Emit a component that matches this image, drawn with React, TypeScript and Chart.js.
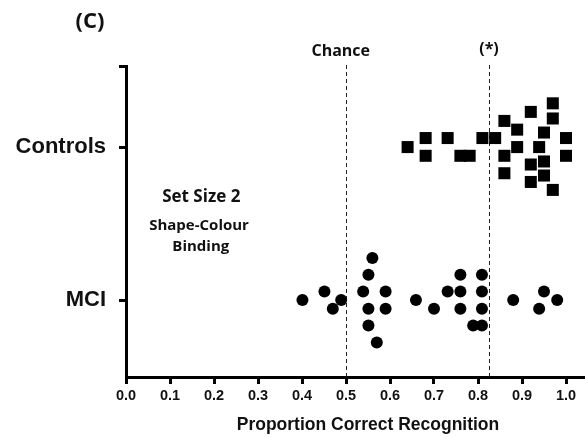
import React, { useEffect, useRef } from "react";
import { Chart, registerables } from "chart.js";

Chart.register(...registerables);

// Category positions on the numeric y axis
const groupLabels: Record<number, string> = { 1: "MCI", 2: "Controls" };

// Controls: proportion correct (x) and jittered row position (y)
const controlsX = [0.64, 0.681, 0.681, 0.731, 0.76, 0.781, 0.81, 0.839, 0.86, 0.86, 0.86, 0.889, 0.889, 0.92, 0.92, 0.92, 0.939, 0.95, 0.95, 0.95, 0.97, 0.97, 0.97, 1.0, 1.0];
const controlsY = [2.0, 2.059, 1.943, 2.059, 1.943, 1.943, 2.059, 2.059, 2.171, 1.943, 1.829, 2.114, 2.0, 2.23, 1.886, 1.772, 2.0, 2.095, 1.906, 1.814, 2.286, 2.187, 1.72, 2.059, 1.943];

// MCI: proportion correct (x) and jittered row position (y)
const mciX = [0.401, 0.451, 0.47, 0.489, 0.56, 0.551, 0.539, 0.551, 0.551, 0.57, 0.59, 0.59, 0.659, 0.7, 0.731, 0.76, 0.76, 0.76, 0.789, 0.809, 0.809, 0.809, 0.809, 0.88, 0.95, 0.939, 0.98];
const mciY = [1.0, 1.056, 0.943, 1.0, 1.275, 1.165, 1.056, 0.943, 0.834, 0.723, 1.056, 0.943, 1.0, 0.943, 1.056, 1.165, 1.056, 0.943, 0.834, 1.165, 1.056, 0.943, 0.834, 1.0, 1.056, 0.943, 1.0];

const xTickValues = [0, 0.1, 0.2, 0.3, 0.4, 0.5, 0.6, 0.7, 0.8, 0.9, 1.0];
const chanceLevel = 0.5;
const sigLevel = 0.825;

const annotationPlugin = {
  id: "annotations",
  beforeDatasetsDraw(chart: any) {
    const { ctx, scales, chartArea } = chart;
    const xs = scales.x;
    ctx.save();
    ctx.strokeStyle = "#222";
    ctx.lineWidth = 1;
    ctx.setLineDash([4, 3]);
    [chanceLevel, sigLevel].forEach((v) => {
      const px = Math.round(xs.getPixelForValue(v)) + 0.5;
      ctx.beginPath();
      ctx.moveTo(px, chartArea.top - 1);
      ctx.lineTo(px, chartArea.bottom);
      ctx.stroke();
    });
    ctx.restore();
  },
  afterDraw(chart: any) {
    const { ctx, scales } = chart;
    const xs = scales.x;
    const ys = scales.y;
    ctx.save();
    ctx.fillStyle = "#111";
    ctx.textAlign = "center";
    ctx.textBaseline = "middle";
    ctx.font = "bold 22px 'Open Sans'";
    ctx.fillText("(C)", 90, 22);
    ctx.font = "bold 16px 'Open Sans'";
    ctx.fillText("Chance", xs.getPixelForValue(0.488), 51);
    ctx.fillText("(*)", xs.getPixelForValue(sigLevel), 49);
    ctx.font = "bold 17px 'Open Sans'";
    ctx.fillText("Set Size 2", xs.getPixelForValue(0.171), ys.getPixelForValue(1.673));
    ctx.font = "bold 15px 'Open Sans'";
    ctx.fillText("Shape-Colour", xs.getPixelForValue(0.166), ys.getPixelForValue(1.484));
    ctx.fillText("Binding", xs.getPixelForValue(0.17), ys.getPixelForValue(1.346));
    ctx.font = "bold 17.5px 'Liberation Sans'";
    ctx.fillText("Proportion Correct Recognition", xs.getPixelForValue(0.55), 425);
    ctx.restore();
  },
};

export default function App() {
  const canvasRef = useRef<HTMLCanvasElement | null>(null);

  useEffect(() => {
    const canvas = canvasRef.current;
    if (!canvas) return;
    const chart = new Chart(canvas, {
      type: "scatter",
      data: {
        datasets: [
          {
            label: "Controls",
            data: controlsX.map((x, i) => ({ x, y: controlsY[i] })),
            pointStyle: "rect",
            pointRadius: 8.5,
            pointHoverRadius: 8.5,
            backgroundColor: "#000",
            borderWidth: 0,
          },
          {
            label: "MCI",
            data: mciX.map((x, i) => ({ x, y: mciY[i] })),
            pointStyle: "circle",
            pointRadius: 6,
            pointHoverRadius: 6,
            backgroundColor: "#000",
            borderWidth: 0,
          },
        ],
      },
      options: {
        animation: false,
        responsive: false,
        layout: { autoPadding: false, padding: { top: 66, right: 0, left: 0, bottom: 0 } },
        plugins: { legend: { display: false }, tooltip: { enabled: false } },
        scales: {
          x: {
            type: "linear",
            min: 0,
            max: (585 - 126) / 440,
            afterFit(scale: any) {
              scale.height = 60;
              scale.paddingLeft = 0;
              scale.paddingRight = 0;
            },
            afterBuildTicks(scale: any) {
              scale.ticks = xTickValues.map((value) => ({ value }));
            },
            ticks: {
              callback: (v: any) => Number(v).toFixed(1),
              color: "#111",
              font: { family: "'Liberation Sans'", weight: "bold", size: 14.5 },
              padding: 3,
              maxRotation: 0,
              autoSkip: false,
            },
            grid: {
              drawOnChartArea: false,
              drawTicks: true,
              tickLength: 7,
              tickWidth: 3,
              tickColor: "#000",
            },
            border: { display: true, color: "#000", width: 3 },
          },
          y: {
            type: "linear",
            min: 0.497,
            max: 2.53,
            afterFit(scale: any) {
              scale.width = 126;
              scale.paddingTop = 0;
              scale.paddingBottom = 0;
            },
            afterBuildTicks(scale: any) {
              scale.ticks = [{ value: 1 }, { value: 2 }, { value: scale.max }];
            },
            ticks: {
              callback: (v: any) => groupLabels[Number(v)] ?? "",
              color: "#111",
              font: { family: "'Liberation Sans'", weight: "bold", size: 22 },
              padding: 13,
              autoSkip: false,
            },
            grid: {
              drawOnChartArea: false,
              drawTicks: true,
              tickLength: 7,
              tickWidth: 3,
              tickColor: "#000",
            },
            border: { display: true, color: "#000", width: 3 },
          },
        },
      },
      plugins: [annotationPlugin],
    });
    return () => chart.destroy();
  }, []);

  return (
    <div style={{ position: "fixed", left: 0, top: 0, width: 585, height: 437, background: "#fff" }}>
      <canvas ref={canvasRef} width={585} height={437} />
    </div>
  );
}
